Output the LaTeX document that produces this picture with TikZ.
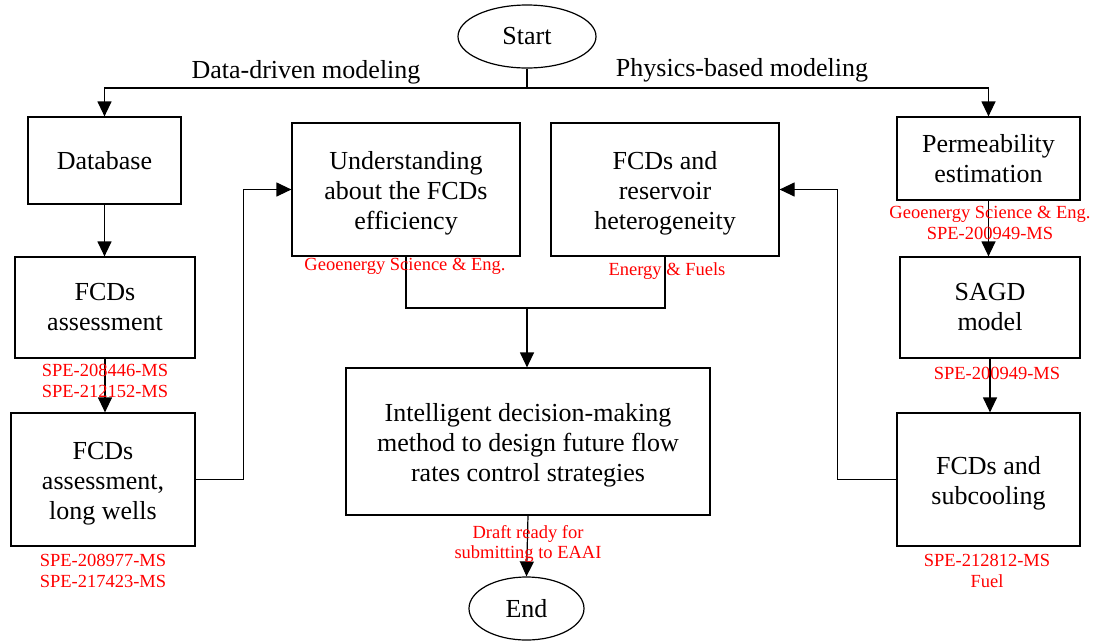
\documentclass[tikz,border=0pt]{standalone}
\usepackage{fontspec}
\setmainfont{Liberation Serif}
\usetikzlibrary{arrows.meta,shapes.geometric}
\newcommand\tup{\rule{0pt}{25pt}}
\begin{document}
\begin{tikzpicture}[x=1pt,y=-1pt,
 box/.style={draw,line width=1.2pt,rectangle,align=center,inner sep=0pt,font=\fontsize{26}{30}\selectfont},
 term/.style={draw,line width=1.2pt,ellipse,inner sep=0pt,font=\fontsize{26}{30}\selectfont},
 note/.style={text=red,align=center,inner sep=0pt,font=\fontsize{18.5}{20.5}\selectfont},
 lbl/.style={inner sep=0pt,font=\fontsize{26}{30}\selectfont},
 conn/.style={line width=1.2pt},
 arr/.style={conn,-{Triangle[length=15pt,width=14pt]}}]
\useasboundingbox (0,0) rectangle (1095,641);
% terminals
\node[term,minimum width=138pt,minimum height=63pt] (start) at (527,36.5) {Start};
\node[term,minimum width=115pt,minimum height=63pt] (end) at (526.5,608.5) {End};
% left column
\node[box,minimum width=153pt,minimum height=87pt] (db) at (104.5,160.5) {Database};
\node[box,minimum width=180pt,minimum height=101pt] (fa) at (105,307.5) {FCDs\\assessment};
\node[box,minimum width=184pt,minimum height=133pt] (lw) at (103,479.5) {\tup FCDs\\assessment,\\long wells};
% middle
\node[box,minimum width=228pt,minimum height=133pt] (und) at (406,189.5) {\tup Understanding\\about the FCDs\\efficiency};
\node[box,minimum width=228pt,minimum height=133pt] (het) at (665,189.5) {\tup FCDs and\\reservoir\\heterogeneity};
\node[box,minimum width=364pt,minimum height=147pt] (intel) at (528,441.5) {\tup Intelligent decision-making\\method to design future flow\\rates control strategies};
% right column
\node[box,minimum width=183pt,minimum height=83pt] (perm) at (988.5,158.5) {Permeability\\estimation};
\node[box,minimum width=180pt,minimum height=101pt] (sagd) at (990,307.5) {SAGD\\model};
\node[box,minimum width=183pt,minimum height=133pt] (sub) at (988.5,479.5) {\tup FCDs and\\subcooling};
% branch labels
\node[lbl] (ldd) at (306,72) {Data-driven modeling};
\node[lbl] (lpb) at (742,70) {Physics-based modeling};
% connectors
\coordinate (sp) at (527,88);
\draw[conn] (start.south) -- (sp);
\draw[arr] (sp) -| (db.north);
\draw[arr] (sp) -| (perm.north);
\draw[arr] (db.south) -- (db.south |- fa.north);
\draw[arr] (fa.south) -- (fa.south |- lw.north);
\draw[arr] (lw.east) -- ++(48,0) |- (und.west);
\coordinate (m) at (527,308);
\draw[conn] (und.south) |- (m);
\draw[conn] (het.south) |- (m);
\draw[arr] (m) -- (m |- intel.north);
\draw[arr] (intel.south) -- (end.north);
\draw[arr] (perm.south) -- (perm.south |- sagd.north);
\draw[arr] (sagd.south) -- (sagd.south |- sub.north);
\draw[arr] (sub.west) -- ++(-59,0) |- (het.east);
% red notes
\node[note] (n1) at (105,381) {SPE-208446-MS\\SPE-212152-MS};
\node[note] (n2) at (103,571) {SPE-208977-MS\\SPE-217423-MS};
\node[note] (n3) at (405,266) {Geoenergy Science \& Eng.};
\node[note] (n4) at (667,271) {Energy \& Fuels};
\node[note] (n5) at (528,544) {Draft ready for\\submitting to EAAI};
\node[note] (n6) at (990,223) {Geoenergy Science \& Eng.\\SPE-200949-MS};
\node[note] (n7) at (997,373) {SPE-200949-MS};
\node[note] (n8) at (987,571) {SPE-212812-MS\\Fuel};
\end{tikzpicture}
\end{document}
